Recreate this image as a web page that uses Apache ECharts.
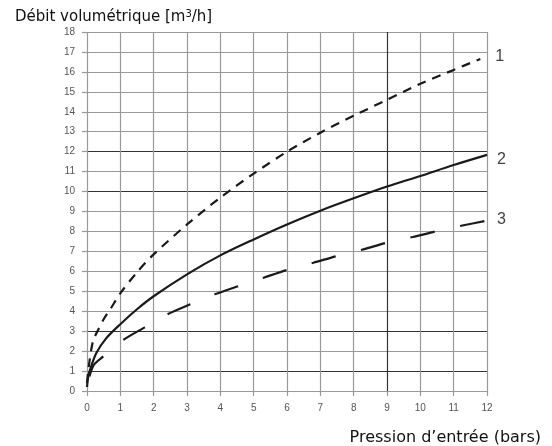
<!DOCTYPE html>
<html lang="fr">
<head>
  <meta charset="UTF-8">
  <title>Débit volumétrique</title>
  <script src="https://cdn.jsdelivr.net/npm/echarts@6/dist/echarts.min.js"></script>
  <style>
    body { margin: 0; background: #ffffff; }
    #main { width: 552px; height: 446px; }
  </style>
</head>
<body>
  <div id="main"></div>
  <script>
    // Courbe 1 (pointillés courts)
    var p1 = [0, 0.05, 0.18, 0.33, 0.5, 0.7, 1, 1.5, 2, 3, 4, 5, 6, 7, 8, 9, 10, 11, 11.8];
    var q1 = [0.4, 1.2, 2.5, 3.05, 3.6, 4.1, 4.9, 5.95, 6.85, 8.35, 9.7, 10.9, 12.0, 12.95, 13.8, 14.6, 15.4, 16.1, 16.65];
    // Courbe 2 (trait plein)
    var p2 = [0, 0.03, 0.08, 0.28, 0.58, 1, 1.5, 2, 3, 4, 5, 6, 7, 8, 9, 10, 11, 12];
    var q2 = [0.2, 0.65, 1.0, 1.9, 2.65, 3.35, 4.1, 4.75, 5.85, 6.8, 7.6, 8.35, 9.04, 9.66, 10.25, 10.78, 11.33, 11.84];
    // Courbe 3 (tirets longs)
    var p3 = [0, 0.05, 0.2, 0.48, 1.08, 1.73, 2.43, 3.1, 3.83, 4.56, 5.3, 6, 6.79, 7.5, 8.29, 9, 9.77, 10.5, 11.3, 12];
    var q3 = [0.2, 0.6, 1.3, 1.72, 2.55, 3.19, 3.86, 4.35, 4.85, 5.27, 5.68, 6.07, 6.43, 6.77, 7.1, 7.44, 7.72, 8.02, 8.31, 8.54];

    var curveNames = ['1', '2', '3'];
    var xTicks = [0, 1, 2, 3, 4, 5, 6, 7, 8, 9, 10, 11, 12];
    var yTicks = [0, 1, 2, 3, 4, 5, 6, 7, 8, 9, 10, 11, 12, 13, 14, 15, 16, 17, 18];
    var darkX = [9];
    var darkY = [1, 3, 10, 12];

    function pairs(xs, ys) {
      return xs.map(function (x, i) { return [x, ys[i]]; });
    }
    var grey = '#999999', dark = '#333333';
    var xLineColors = xTicks.map(function (v) { return darkX.indexOf(v) >= 0 ? dark : grey; });
    var yLineColors = yTicks.map(function (v) { return darkY.indexOf(v) >= 0 ? dark : grey; });
    var wide = 'DejaVu Sans, Verdana, sans-serif';

    var chart = echarts.init(document.getElementById('main'));

    function endLbl(text, offset) {
      return {
        show: true,
        formatter: text,
        distance: 10,
        offset: offset,
        color: '#444',
        fontSize: 16,
        fontFamily: 'Liberation Sans, Arial, sans-serif'
      };
    }

    chart.setOption({
      animation: false,
      backgroundColor: '#ffffff',
      textStyle: { fontFamily: 'Liberation Sans, Arial, sans-serif' },
      title: [
        {
          text: '{a|Débit volumétrique [m}{s|3}{a|/h]}',
          left: 10, top: 4,
          textStyle: {
            rich: {
              a: { fontSize: 15, fontWeight: 'normal', color: '#111', fontFamily: wide },
              s: { fontSize: 10, fontWeight: 'normal', color: '#111', verticalAlign: 'top', padding: [0, 0, 7, 0], fontFamily: wide }
            }
          }
        },
        {
          text: 'Pression d’entrée (bars)',
          right: 6, top: 425,
          textStyle: { fontSize: 16, fontWeight: 'normal', color: '#111', fontFamily: wide }
        }
      ],
      grid: { left: 87, right: 65, top: 32, bottom: 55, containLabel: false },
      xAxis: {
        type: 'value', min: 0, max: 12, interval: 1,
        axisLine: { show: false },
        axisTick: { show: true, length: 5, lineStyle: { color: grey, width: 1.2 } },
        axisLabel: { color: '#555', fontSize: 10, margin: 12 },
        splitLine: { show: true, lineStyle: { color: xLineColors, width: 1.2 } }
      },
      yAxis: {
        type: 'value', min: 0, max: 18, interval: 1,
        axisLine: { show: false },
        axisTick: { show: true, length: 5, lineStyle: { color: grey, width: 1.2 } },
        axisLabel: { color: '#555', fontSize: 10, margin: 12 },
        splitLine: { show: true, lineStyle: { color: yLineColors, width: 1.2 } }
      },
      series: [
        {
          name: curveNames[0], type: 'line', data: pairs(p1, q1), smooth: 0.3,
          showSymbol: false, z: 3,
          lineStyle: { color: '#1a1a1a', width: 2.2, type: [9, 7] },
          endLabel: endLbl(curveNames[0], [5, -2])
        },
        {
          name: curveNames[1], type: 'line', data: pairs(p2, q2), smooth: 0.3,
          showSymbol: false, z: 3,
          lineStyle: { color: '#1a1a1a', width: 2.2, type: 'solid' },
          endLabel: endLbl(curveNames[1], [0, 5])
        },
        {
          name: curveNames[2], type: 'line', data: pairs(p3, q3), smooth: 0.3,
          showSymbol: false, z: 3,
          lineStyle: { color: '#1a1a1a', width: 2.2, type: [25, 26], dashOffset: 40 },
          endLabel: endLbl(curveNames[2], [0, -1])
        }
      ]
    });
  </script>
</body>
</html>
